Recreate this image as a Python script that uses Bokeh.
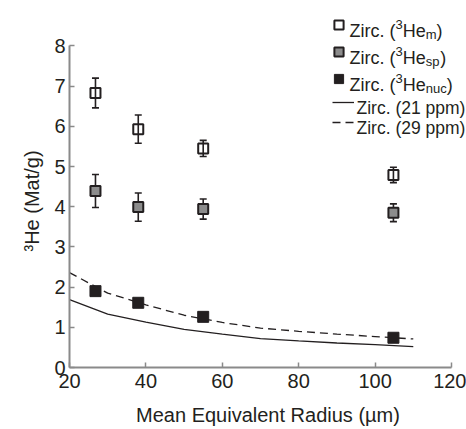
from bokeh.plotting import figure
from bokeh.models import (Range1d, FixedTicker, ColumnDataSource, Whisker, TeeHead,
                          Label, Legend, LegendItem, Title)
from bokeh.core.properties import value
from bokeh.embed import file_html
from bokeh.resources import INLINE

# ---------------- data ----------------
radius = [26.8, 38.0, 55.0, 104.8]
he_m = [6.83, 5.93, 5.45, 4.79]
he_m_err = [0.37, 0.35, 0.20, 0.19]
he_sp = [4.39, 3.99, 3.94, 3.85]
he_sp_err = [0.41, 0.35, 0.25, 0.22]
he_nuc = [1.90, 1.61, 1.26, 0.74]

model_radius = [20, 30, 40, 50, 60, 70, 80, 90, 100, 110]
model_21ppm = [1.69, 1.33, 1.13, 0.95, 0.83, 0.72, 0.66, 0.61, 0.57, 0.52]
model_29ppm = [2.36, 1.85, 1.56, 1.30, 1.12, 0.98, 0.90, 0.83, 0.77, 0.71]

x_ticks = [20, 40, 60, 80, 100, 120]
y_ticks = [0, 1, 2, 3, 4, 5, 6, 7, 8]
x_title = "Mean Equivalent Radius (\u00b5m)"
y_title = "\u00b3He (Mat/g)"
legend_pre = "Zirc. ("
legend_sup = "3"
legend_he = "He"
legend_subs = ["m", "sp", "nuc"]
legend_lines = ["Zirc. (21 ppm)", "Zirc. (29 ppm)"]

# ---------------- styles ----------------
FONT = "Liberation Sans"
INK = "#231f20"
GRAY = "#8c8c8c"
AXIS = "#8a8a8a"

p = figure(width=466, height=429, output_backend="svg", toolbar_location=None,
           x_range=Range1d(20, 123.93), y_range=Range1d(0, 9.13),
           min_border_left=69, min_border_right=0, min_border_top=0,
           min_border_bottom=62)
p.grid.visible = False
p.outline_line_color = None
p.background_fill_color = "white"
p.border_fill_color = "white"

for ax, ticks, bnds in ((p.xaxis[0], x_ticks, (20, 120)), (p.yaxis[0], y_ticks, (0, 8))):
    ax.ticker = FixedTicker(ticks=ticks, minor_ticks=[])
    ax.bounds = bnds
    ax.axis_line_color = AXIS
    ax.axis_line_width = 2
    ax.major_tick_line_color = AXIS
    ax.major_tick_line_width = 1.5
    ax.major_tick_in = 5
    ax.major_tick_out = 0
    ax.minor_tick_line_color = None
    ax.major_label_text_font = FONT
    ax.major_label_text_font_size = "20px"
    ax.major_label_text_color = INK
p.xaxis.major_label_standoff = 6
p.yaxis.major_label_standoff = 4

# x title: the axis' own label
p.xaxis.axis_label = x_title
p.xaxis.axis_label_standoff = 13
p.xaxis.axis_label_text_font = FONT
p.xaxis.axis_label_text_font_size = "20px"
p.xaxis.axis_label_text_font_style = "normal"
p.xaxis.axis_label_text_color = INK

# y title: side-panel title, left-aligned with an offset along the axis
p.add_layout(Title(text=y_title, align="left", offset=116, standoff=18,
                   text_font=FONT, text_font_size="20px", text_font_style="normal",
                   text_color=INK), "left")

# ---------------- model curves ----------------
r21 = p.line(model_radius, model_21ppm, line_color=INK, line_width=1.3)
r29 = p.line(model_radius, model_29ppm, line_color=INK, line_width=1.3, line_dash="8 5")

# ---------------- error bars ----------------
for vals, errs in ((he_m, he_m_err), (he_sp, he_sp_err)):
    src = ColumnDataSource(dict(x=radius,
                                upper=[v + e for v, e in zip(vals, errs)],
                                lower=[v - e for v, e in zip(vals, errs)]))
    w = Whisker(source=src, base="x", upper="upper", lower="lower",
                line_color=INK, line_width=1.6, level="underlay",
                upper_head=TeeHead(size=7, line_color=INK, line_width=1.6),
                lower_head=TeeHead(size=7, line_color=INK, line_width=1.6))
    p.add_layout(w)

# ---------------- markers ----------------
rm = p.scatter(radius, he_m, marker="square", size=10, fill_alpha=0,
               line_color=INK, line_width=2)
rsp = p.scatter(radius, he_sp, marker="square", size=10, fill_color=GRAY,
                line_color=INK, line_width=2)
rnuc = p.scatter(radius, he_nuc, marker="square", size=11, fill_color=INK,
                 line_color=INK, line_width=1)

# ---------------- helpers: canvas px -> frame-relative screen units ----------------
FL, FB = 69, 367
def sx(ix):
    return ix - FL
def sy(iy):
    return FB - iy

# ---------------- legends (glyphs) ----------------
leg1 = Legend(items=[LegendItem(label=value(""), renderers=[r]) for r in (rm, rsp, rnuc)],
              location=(sx(326.5), sy(89.5)), orientation="vertical",
              glyph_width=23, glyph_height=23, label_height=23, label_width=0,
              label_standoff=0, spacing=4, padding=0, margin=0,
              border_line_color=None, background_fill_alpha=0)
leg2 = Legend(items=[LegendItem(label=value(""), renderers=[r]) for r in (r21, r29)],
              location=(sx(332), sy(131.5)), orientation="vertical",
              glyph_width=22, glyph_height=20, label_height=20, label_width=0,
              label_standoff=0, spacing=0, padding=0, margin=0,
              border_line_color=None, background_fill_alpha=0)
p.add_layout(leg1)
p.add_layout(leg2)

# ---------------- legend texts ----------------
F, f = 18, 13
W = {"pre": 2.555, "sup": 0.556, "he": 1.278, "m": 0.833, "sp": 1.112, "nuc": 1.612}
row_y = [24, 51, 78]
tx = 349

def lab(x, y, text, size, **kw):
    return Label(x=x, y=y, x_units="screen", y_units="screen", text=text,
                 text_font=FONT, text_font_size=f"{size}px", text_color=INK,
                 text_baseline="alphabetic", text_align="left", **kw)

for sub, ry in zip(legend_subs, row_y):
    base = ry + 6
    x = tx
    p.add_layout(lab(sx(x), sy(base), legend_pre, F))
    x += W["pre"] * F
    p.add_layout(lab(sx(x), sy(base - 6.5), legend_sup, f))
    x += W["sup"] * f
    p.add_layout(lab(sx(x), sy(base), legend_he, F))
    x += W["he"] * F
    p.add_layout(lab(sx(x), sy(base + 4), sub, f))
    x += W[sub] * f
    p.add_layout(lab(sx(x), sy(base), ")", F))
for txt, ry in zip(legend_lines, [101.5, 121.5]):
    p.add_layout(lab(sx(356), sy(ry + 6), txt, 17.5))

open("out.html", "w").write(file_html(p, INLINE))
